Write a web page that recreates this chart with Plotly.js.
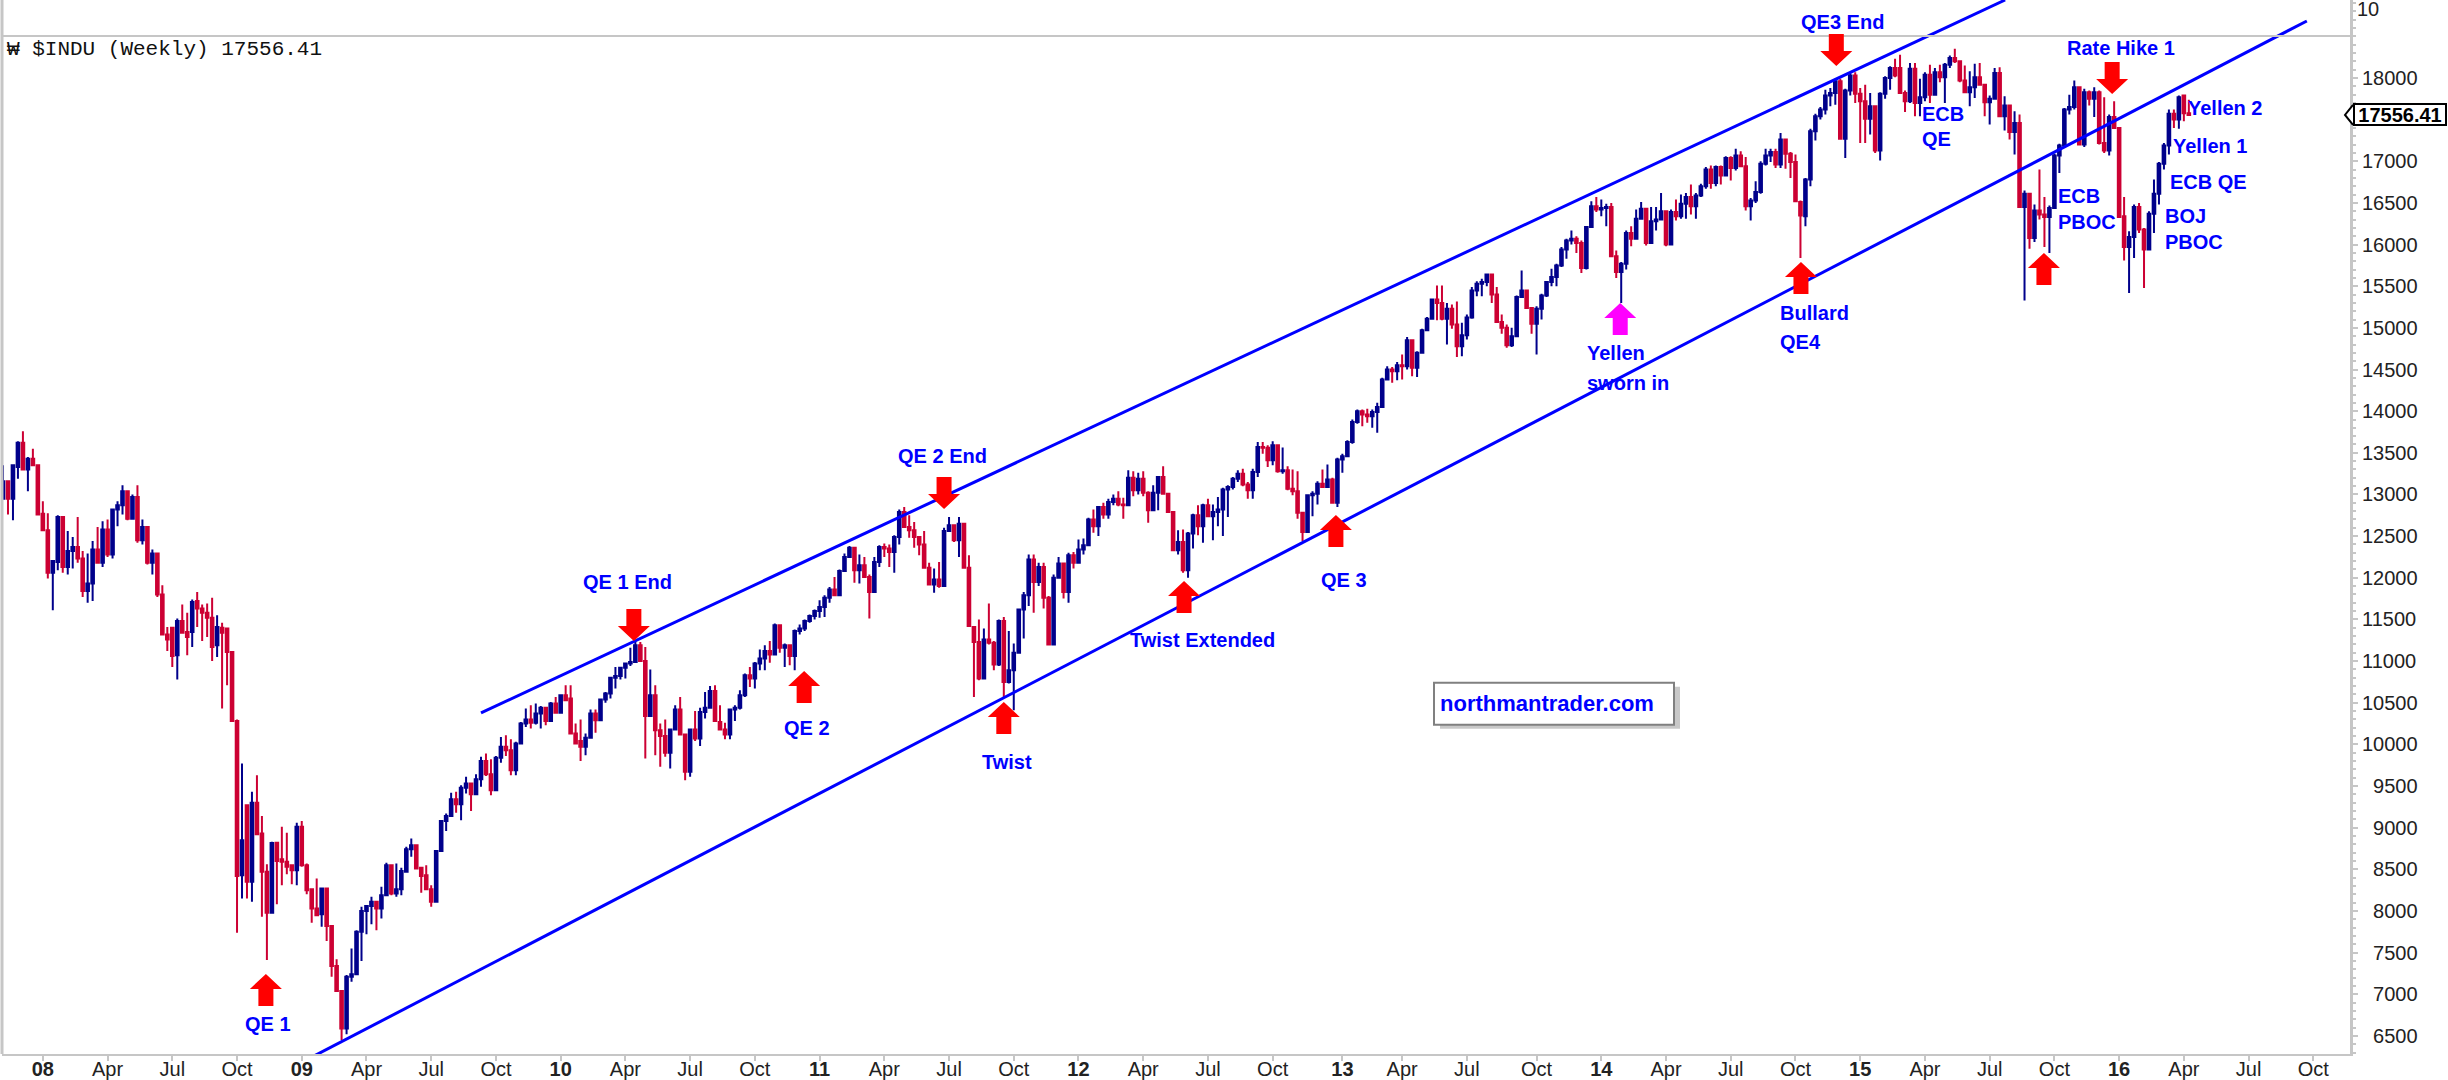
<!DOCTYPE html>
<html><head><meta charset="utf-8">
<script src="https://cdn.plot.ly/plotly-3.0.1.min.js"></script>
<style>html,body{margin:0;padding:0;background:#fff}</style></head>
<body><div id="chart" style="width:2448px;height:1080px"></div>
<script>
// weekly bars: [open, high, low, close]
const firstWeek = [2007, 10, 16];
const bars2007 = [[12950,13350,12940,13160],[13160,13160,12760,12950],[12950,13350,12690,13350],[13330,13640,13190,13620],[13620,13760,13290,13300],[13300,13450,13040,13430],[13430,13550,13340,13350]];
const bars2008 = [[13350,13350,12760,12760],[12770,12920,12560,12570],[12570,12775,11990,12060],[12060,12200,11610,12200],[12190,12750,12090,12730],[12730,12730,12060,12130],[12130,12560,12040,12320],[12320,12490,12110,12370],[12370,12730,12180,12230],[12230,12320,11770,11840],[11840,12290,11700,11930],[11930,12440,11720,12340],[12340,12610,12170,12180],[12180,12680,12130,12580],[12580,12700,12250,12280],[12280,12830,12230,12820],[12820,12920,12620,12870],[12870,13110,12760,13040],[13040,13040,12690,12710],[12710,13000,12700,12970],[12970,13110,12420,12450],[12450,12700,12400,12610],[12610,12610,12160,12180],[12180,12340,12040,12290],[12290,12290,11770,11800],[11800,11910,11310,11320],[11320,11410,11120,11260],[11400,11400,10930,11060],[11070,11510,10780,11480],[11480,11680,11330,11340],[11350,11580,11070,11290],[11350,11740,11170,11710],[11720,11830,11410,11630],[11630,11680,11240,11580],[11580,11690,11290,11520],[11520,11760,11000,11170],[11190,11550,11050,11410],[11400,11460,10430,11340],[11390,11390,10710,11110],[11110,11110,10270,10280],[10280,10300,7740,8420],[8430,9770,8150,8850],[9270,9270,8150,8350],[8350,9430,8110,9300],[9300,9630,8920,8920],[8930,9140,7930,8470],[8470,8560,7410,7980],[7980,8830,7980,8815],[8820,8820,8080,8600],[8620,9010,8310,8590],[8590,8940,8440,8530],[8550,8560,8320,8490],[8490,9060,8310,9010]];
const bars2009 = [[9010,9080,8530,8550],[8550,8570,8200,8250],[8260,8260,7860,8030],[8030,8390,7950,7950],[7960,8280,7810,8270],[8270,8280,7640,7820],[7820,7830,7210,7340],[7340,7420,7030,7040],[7040,7040,6450,6590],[6590,7230,6520,7210],[7210,7550,7150,7240],[7240,7770,7240,7750],[7750,8050,7400,8000],[8000,8070,7720,8060],[8060,8170,7840,8110],[8110,8110,7770,8030],[8030,8290,7910,8190],[8190,8580,8190,8550],[8550,8560,8190,8210],[8210,8570,8170,8260],[8260,8520,8190,8480],[8470,8770,8470,8740],[8740,8870,8650,8790],[8790,8790,8500,8510],[8520,8530,8220,8420],[8430,8550,8250,8260],[8260,8310,8050,8110],[8110,8730,8100,8720],[8720,9090,8710,9080],[9080,9170,8960,9140],[9140,9420,9130,9340],[9340,9430,9180,9280],[9280,9510,9090,9480],[9480,9610,9410,9530],[9530,9540,9200,9400],[9400,9640,9400,9580],[9580,9850,9490,9800],[9800,9890,9620,9640],[9640,9820,9390,9450],[9450,9860,9450,9840],[9840,10090,9780,9970],[9970,10110,9860,9930],[9930,10060,9630,9690],[9690,10030,9630,10010],[10010,10270,10000,10250],[10250,10430,10210,10300],[10300,10470,10190,10260],[10260,10490,10240,10370],[10370,10460,10190,10440],[10440,10450,10230,10280],[10280,10510,10280,10490],[10490,10570,10380,10380]];
const bars2010 = [[10380,10590,10380,10590],[10590,10710,10530,10530],[10550,10710,10130,10130],[10130,10250,10000,10010],[10040,10300,9800,9970],[9970,10130,9870,10080],[10080,10420,10080,10370],[10370,10420,10140,10290],[10290,10550,10280,10540],[10540,10630,10500,10610],[10610,10810,10550,10800],[10800,10930,10670,10820],[10820,10930,10780,10920],[10920,10980,10790,10970],[10970,11160,10940,10990],[10990,11250,10980,11190],[11190,11230,10990,11000],[11000,11170,9830,10340],[10340,10900,10340,10590],[10590,10710,9870,10170],[10170,10250,9730,10100],[10100,10300,9850,9900],[9900,10190,9710,10180],[10180,10470,10170,10420],[10420,10570,10110,10120],[10120,10130,9570,9670],[9670,10190,9610,10180],[10180,10400,10040,10070],[10070,10440,9980,10390],[10390,10630,10310,10440],[10440,10700,10440,10640],[10640,10710,10270,10280],[10270,10470,10170,10180],[10180,10260,10060,10120],[10120,10430,10060,10420],[10420,10470,10280,10440],[10440,10650,10420,10590],[10590,10850,10570,10830],[10830,10930,10690,10790],[10790,10990,10670,10970],[10970,11140,10890,11030],[11030,11190,10890,11120],[11120,11240,10980,11080],[11080,11450,11080,11430],[11430,11440,11100,11160],[11160,11210,10930,11190],[11190,11200,10950,11060],[11060,11380,10890,11360],[11360,11440,11320,11390],[11390,11500,11360,11480],[11480,11560,11460,11540],[11540,11620,11500,11600]];
const bars2011 = [[11600,11730,11520,11650],[11650,11790,11530,11760],[11760,11890,11700,11860],[11860,12010,11780,11790],[11790,12100,11780,12080],[12080,12290,12070,12250],[12250,12380,12240,12360],[12360,12370,11940,12090],[12090,12280,11930,12150],[12150,12250,12000,12010],[12010,12040,11510,11830],[11830,12250,11820,12190],[12190,12390,12130,12370],[12370,12410,12250,12350],[12350,12400,12130,12310],[12310,12510,12060,12490],[12490,12820,12400,12790],[12790,12850,12600,12610],[12610,12750,12480,12570],[12570,12670,12360,12490],[12490,12490,12270,12400],[12400,12560,12110,12120],[12120,12180,11910,11920],[11920,12110,11820,11980],[11980,12190,11880,11900],[11900,12600,11890,12560],[12560,12730,12550,12630],[12630,12640,12430,12450],[12450,12730,12250,12650],[12650,12660,12110,12120],[12120,12270,11410,11420],[11410,11420,10570,11230],[11230,11500,10770,10790],[10790,11390,10780,11260],[11260,11690,11200,11220],[11220,11240,10890,10960],[10960,11500,10940,11480],[11480,11530,10570,10750],[10750,11360,10730,10890],[10890,11210,10410,11100],[11100,11630,11090,11620],[11620,11830,11270,11790],[11790,12280,11660,12220],[12220,12280,11580,11950],[11950,12180,11900,12130],[12130,12180,11630,11760],[11760,11780,11190,11200],[11200,12040,11190,12000],[12000,12250,11990,12170],[12170,12180,11750,11830],[11830,12300,11700,12270],[12270,12310,12110,12180]];
const bars2012 = [[12180,12460,12170,12340],[12340,12470,12280,12390],[12390,12720,12390,12700],[12700,12820,12540,12620],[12620,12850,12500,12850],[12850,12900,12710,12760],[12760,12950,12710,12910],[12910,13000,12870,12950],[12950,13040,12860,12880],[12880,12960,12710,12870],[12870,13290,12860,13200],[13200,13280,12980,13050],[13050,13260,13000,13190],[13190,13280,12980,13020],[13020,13040,12660,12810],[12810,13110,12800,13020],[13020,13210,12810,13210],[13210,13340,13000,13010],[13010,13010,12780,12790],[12790,12800,12320,12330],[12330,12570,12280,12430],[12430,12580,12060,12090],[12090,12550,12000,12530],[12530,12770,12350,12750],[12750,12870,12510,12620],[12620,12890,12420,12870],[12870,12950,12730,12740],[12740,12880,12450,12790],[12790,12970,12620,12820],[12820,13080,12500,13060],[13060,13110,12730,13090],[13090,13210,13060,13190],[13190,13290,13150,13250],[13250,13310,13100,13120],[13120,13150,12950,13050],[13050,13310,12950,13270],[13270,13630,13210,13570],[13570,13630,13490,13560],[13560,13590,13330,13410],[13410,13640,13350,13590],[13590,13600,13260,13280],[13280,13565,13250,13290],[13290,13340,13050,13070],[13070,13300,12990,13040],[13040,13280,12710,12780],[12780,12790,12440,12550],[12550,13000,12540,12990],[12990,13040,12740,13010],[13010,13160,12880,13130],[13130,13300,13080,13090],[13090,13360,13080,13180],[13180,13200,12890,12900]];
const bars2013 = [[12900,13440,12850,13420],[13420,13490,13260,13460],[13460,13650,13450,13630],[13630,13900,13610,13870],[13870,14020,13850,14000],[14000,14020,13820,13960],[13960,14030,13860,13940],[13940,14020,13800,13990],[13990,14100,13740,14050],[14050,14400,14040,14380],[14380,14540,14370,14500],[14500,14530,14340,14480],[14480,14590,14370,14550],[14550,14680,14380,14540],[14540,14890,14500,14850],[14850,14860,14420,14520],[14520,14720,14410,14700],[14700,14990,14690,14970],[14970,15130,14960,15110],[15110,15350,15100,15340],[15340,15510,15090,15300],[15300,15510,15090,15110],[15110,15300,14800,15230],[15230,15280,14990,15040],[15040,15316,14650,14780],[14780,15060,14660,14910],[14910,15160,14860,15125],[15125,15490,15110,15450],[15450,15560,15380,15530],[15530,15590,15380,15550],[15550,15650,15500,15640],[15640,15650,15300,15400],[15400,15490,15060,15070],[15070,15160,14930,15000],[15000,15040,14760,14790],[14790,15000,14770,14900],[14900,15390,14890,15370],[15370,15690,15360,15450],[15450,15460,15230,15240],[15240,15250,14930,15050],[15050,15260,14680,15230],[15230,15410,15100,15390],[15390,15560,15370,15550],[15550,15710,15500,15610],[15610,15770,15500,15750],[15750,15970,15730,15940],[15940,16070,15830,16050],[16050,16170,16000,16070],[16070,16100,15900,16020],[16020,16050,15660,15720],[15720,16220,15700,16210],[16210,16520,16200,16460]];
const bars2014 = [[16460,16570,16390,16420],[16420,16540,16340,16440],[16440,16490,16220,16450],[16450,16500,15850,15860],[15860,15930,15600,15670],[15670,15790,15300,15770],[15770,16170,15700,16140],[16140,16220,15980,16070],[16070,16420,16060,16310],[16310,16510,16300,16430],[16430,16440,15990,16020],[16020,16450,16010,16280],[16280,16450,16170,16300],[16300,16620,16290,16400],[16400,16410,15980,16000],[16000,16420,16000,16390],[16390,16540,16290,16340],[16340,16600,16310,16490],[16490,16620,16310,16570],[16570,16720,16360,16460],[16460,16620,16310,16590],[16590,16730,16570,16700],[16700,16930,16670,16900],[16900,16950,16670,16740],[16740,16950,16700,16930],[16930,16950,16720,16830],[16830,17060,16820,17040],[17040,17060,16770,16920],[16920,17150,16890,17070],[17070,17120,16930,16940],[16940,17050,16410,16460],[16460,16560,16290,16530],[16530,16760,16500,16630],[16630,17000,16610,16970],[16970,17150,16950,17070],[17070,17150,16990,17110],[17110,17150,16920,16960],[16960,17340,16920,17260],[17260,17270,16910,17090],[17090,17110,16800,16990],[16990,17080,16510,16520],[16510,16530,15840,16350],[16340,16800,16220,16780],[16780,17390,16700,17360],[17360,17570,17250,17540],[17540,17650,17500,17620],[17620,17860,17560,17790],[17790,17880,17660,17820],[17820,17990,17680,17960],[17960,17990,17260,17270],[17270,17870,17040,17850],[17850,18070,17790,18030],[18030,18070,17700,17810]];
const bars2015 = [[17810,17880,17220,17720],[17720,17920,17220,17510],[17510,17820,17320,17660],[17660,17670,17100,17130],[17130,17830,17010,17810],[17810,18020,17750,18000],[18000,18140,17860,18120],[18120,18230,18010,18030],[18120,18280,17810,17820],[17820,17850,17590,17720],[17720,18180,17700,18110],[18110,18180,17540,17700],[17700,17990,17540,17770],[17770,18070,17720,18040],[18040,18160,17700,17800],[17800,18120,17790,18070],[18070,18160,17950,18010],[18010,18180,17700,18160],[18160,18270,18120,18240],[18240,18350,18180,18200],[18200,18210,17950,17970],[17970,18150,17820,17830],[17830,18080,17660,17890],[17890,18170,17760,18010],[18010,18180,17910,17920],[17920,17930,17540,17710],[17710,17790,17440,17750],[17750,18120,17740,18060],[18060,18130,17530,17540],[17540,17780,17370,17670],[17670,17680,17260,17350],[17350,17600,17080,17460],[17460,17560,16440,16450],[16450,16650,15330,16610],[16610,16620,15950,16080],[16080,16480,16030,16410],[16410,16900,16300,16360],[16360,16570,15970,16330],[16330,16470,15900,16440],[16440,17090,16440,17070],[17070,17210,16860,17190],[17190,17640,17160,17620],[17620,17800,17560,17650],[17650,17970,17620,17890],[17890,17900,17190,17200],[17200,17870,17170,17830],[17830,17850,17670,17750],[17750,17890,17530,17830],[17830,17850,17200,17220],[17220,17770,17100,17130],[17130,17560,17070,17530],[17530,17720,17390,17400]];
const bars2016 = [[17400,17400,16320,16330],[16340,16570,15810,15970],[15970,16160,15420,16090],[16090,16480,15840,16450],[16450,16500,16140,16180],[16180,16200,15480,15940],[15940,16400,15930,16370],[16370,16780,16140,16610],[16610,16990,16480,16970],[16970,17220,16900,17190],[17190,17620,17080,17570],[17570,17620,17400,17500],[17500,17790,17390,17770],[17790,17800,17480,17577],[17576,17740,17550,17556.41]];
const lastClose = 17556.41;

const yTicks = [6500,7000,7500,8000,8500,9000,9500,10000,10500,11000,11500,12000,12500,13000,13500,14000,14500,15000,15500,16000,16500,17000,17500,18000];
const xTickDates = ['2008-01-11','2008-04-11','2008-07-11','2008-10-10','2009-01-09','2009-04-10','2009-07-10','2009-10-09','2010-01-08','2010-04-09','2010-07-09','2010-10-08','2011-01-07','2011-04-08','2011-07-08','2011-10-07','2012-01-06','2012-04-06','2012-07-06','2012-10-05','2013-01-11','2013-04-05','2013-07-05','2013-10-11','2014-01-10','2014-04-11','2014-07-11','2014-10-10','2015-01-09','2015-04-10','2015-07-10','2015-10-09','2016-01-08','2016-04-08','2016-07-08','2016-10-07'];
const xTickLabels = ['08','Apr','Jul','Oct','09','Apr','Jul','Oct','10','Apr','Jul','Oct','11','Apr','Jul','Oct','12','Apr','Jul','Oct','13','Apr','Jul','Oct','14','Apr','Jul','Oct','15','Apr','Jul','Oct','16','Apr','Jul','Oct'];

const upperChannelWeeks = [96, 402.1], upperChannelPrices = [10377, 18936];
const lowerChannelWeeks = [60.9, 462.7], lowerChannelPrices = [6211, 18684];

const noteTexts  = ['QE 1','QE 1 End','QE 2','QE 2 End','Twist','Twist Extended','QE 3','Yellen','sworn in','Bullard','QE4','QE3 End','ECB','QE','Rate Hike 1','Yellen 2','Yellen 1','ECB QE','BOJ','PBOC','ECB','PBOC'];
const noteWeeks  = [53.2,125.5,161.5,188.6,201.6,241,269.3,318.3,318.3,357.1,357.1,369.4,385.6,385.6,425.4,439,436,435.4,434.4,434.4,412.9,412.9];
const notePrices = [6643,11950,10197,13462,9789,11253,11974,14699,14339,15179,14831,18672,17568,17268,18360,17640,17184,16752,16343,16031,16583,16271];
const noteAlign  = ['center','center','center','center','center','center','center','left','left','left','left','center','left','left','center','left','left','left','left','left','left','left'];

const arrowWeeks  = [52.8,126.7,160.9,189,201,237.2,267.7,324.8,361.1,368.2,423.6,409.9];
const arrowPrices = [7244,11241,10881,12826,10509,11962,12754,15299,15791,18144,17808,15899];
const arrowKinds  = ['up','down','up','down','up','up','up','up','up','down','down','up'];
const arrowHues   = ['#ff0000','#ff0000','#ff0000','#ff0000','#ff0000','#ff0000','#ff0000','#ff00ff','#ff0000','#ff0000','#ff0000','#ff0000'];

const bars = [].concat(bars2007,bars2008,bars2009,bars2010,bars2011,bars2012,bars2013,bars2014,bars2015,bars2016);
const DAY = 864e5;
const t0 = Date.UTC(firstWeek[0],firstWeek[1],firstWeek[2]);
const dateAt = w => new Date(t0 + w*7*DAY).toISOString().replace('T',' ').slice(0,19);
const GREY = '#c6c6c6', FONT = 'Liberation Sans, Arial, sans-serif', BLUE = '#0000ff';
const RIGHT_EDGE = '2016-11-27 14:00';

const traces = [{
  type:'candlestick', x:bars.map((_,i)=>dateAt(i)),
  open:bars.map(r=>r[0]), high:bars.map(r=>r[1]), low:bars.map(r=>r[2]), close:bars.map(r=>r[3]),
  increasing:{line:{color:'#00008b',width:2},fillcolor:'#00008b'},
  decreasing:{line:{color:'#cc0033',width:2},fillcolor:'#cc0033'},
  whiskerwidth:0, showlegend:false, hoverinfo:'skip'
},{
  type:'scatter', mode:'lines', x:upperChannelWeeks.map(dateAt), y:upperChannelPrices,
  line:{color:BLUE,width:3}, showlegend:false, hoverinfo:'skip'
},{
  type:'scatter', mode:'lines', x:lowerChannelWeeks.map(dateAt), y:lowerChannelPrices, cliponaxis:false,
  line:{color:BLUE,width:3}, showlegend:false, hoverinfo:'skip'
}];

const shapes = [
  {type:'line',xref:'paper',yref:'y',x0:0,x1:1,y0:18504,y1:18504,line:{color:GREY,width:2}},
  {type:'line',xref:'paper',yref:'paper',x0:0,x1:0,y0:0,y1:1,line:{color:GREY,width:3}},
  {type:'path',xref:'paper',yref:'y',xsizemode:'pixel',ysizemode:'pixel',xanchor:1,yanchor:lastClose,path:'M3,10 L-5,0 L3,-10',line:{color:'#000',width:2},fillcolor:'#fff'},
  {type:'rect',xref:'x',yref:'y',xsizemode:'pixel',ysizemode:'pixel',xanchor:dateAt(287.4),yanchor:10740,x0:6,x1:246,y0:-46,y1:-4,fillcolor:'#c8c8c8',line:{width:0}},
  {type:'rect',xref:'x',yref:'y',xsizemode:'pixel',ysizemode:'pixel',xanchor:dateAt(287.4),yanchor:10740,x0:0,x1:240,y0:-42,y1:0,fillcolor:'#fff',line:{color:'#808080',width:2}}
];
arrowWeeks.forEach((w,k)=>{
  const s = arrowKinds[k]==='up' ? 1 : -1;
  shapes.push({type:'path',xref:'x',yref:'y',xsizemode:'pixel',ysizemode:'pixel',
    xanchor:dateAt(w),yanchor:arrowPrices[k],
    path:`M0,0 L16,${-15*s} L7.5,${-15*s} L7.5,${-32*s} L-7.5,${-32*s} L-7.5,${-15*s} L-16,${-15*s} Z`,
    fillcolor:arrowHues[k],line:{width:0}});
});

const annotations = noteTexts.map((t,k)=>({
  xref:'x',yref:'y',x:dateAt(noteWeeks[k]),y:notePrices[k],text:'<b>'+t+'</b>',showarrow:false,
  xanchor:noteAlign[k],xshift:noteAlign[k]==='left'?-3:0,yanchor:'middle',font:{family:FONT,size:20,color:BLUE}
}));
annotations.push({xref:'x',yref:'y',x:dateAt(288.9),xshift:-3,y:10490,text:'<b>northmantrader.com</b>',showarrow:false,xanchor:'left',yanchor:'middle',font:{family:FONT,size:22,color:BLUE}});
annotations.push({xref:'paper',yref:'y',x:0.0012,y:18336,text:'₩ $INDU (Weekly) 17556.41',showarrow:false,xanchor:'left',yanchor:'middle',font:{family:'Liberation Mono, monospace',size:21,color:'#111'}});
annotations.push({xref:'paper',yref:'y',x:1,xshift:3,y:lastClose,text:'<b>'+lastClose.toFixed(2)+'</b>',showarrow:false,xanchor:'left',yanchor:'middle',width:90,height:19,align:'center',bgcolor:'#fff',bordercolor:'#000',borderwidth:2,borderpad:0,font:{family:FONT,size:20,color:'#000'}});
annotations.push({xref:'paper',yref:'y',x:1,xshift:5,y:18825,text:'10',showarrow:false,xanchor:'left',yanchor:'middle',font:{family:FONT,size:20,color:'#222'}});

const yText = yTicks.map(v=> v===17500 ? '' : (v<10000?'\u2007':'')+v);
const xText = xTickLabels.map(t=>/^\d/.test(t)?'<b>'+t+'</b>':t);

Plotly.newPlot('chart',traces,{
  width:2448,height:1080,margin:{l:2,r:98,t:0,b:26},paper_bgcolor:'#fff',plot_bgcolor:'#fff',
  showlegend:false,font:{family:FONT,size:20,color:'#222'},boxgap:0.25,
  xaxis:{type:'date',range:['2007-11-14 14:00',RIGHT_EDGE],rangeslider:{visible:false},showgrid:false,zeroline:false,
    tickmode:'array',tickvals:xTickDates,ticktext:xText,tickangle:0,ticks:'outside',ticklen:5,tickcolor:GREY,tickwidth:2,
    ticklabelstandoff:-9,showline:true,linecolor:GREY,linewidth:2,tickfont:{family:FONT,size:20,color:'#222'}},
  yaxis:{side:'right',range:[6283,18936],showgrid:false,zeroline:false,tickmode:'array',tickvals:yTicks,ticktext:yText,
    ticks:'outside',ticklen:5,tickcolor:GREY,tickwidth:2,showline:true,linecolor:GREY,linewidth:3,
    minor:{dtick:100,ticks:'outside',ticklen:3,tickcolor:GREY,tickwidth:2,showgrid:false},
    tickfont:{family:FONT,size:20,color:'#222'}},
  shapes,annotations
},{staticPlot:true,displayModeBar:false});
</script></body></html>
